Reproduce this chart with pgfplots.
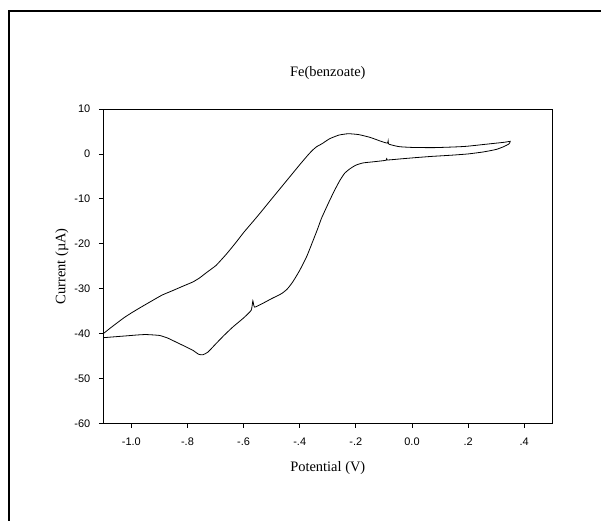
\documentclass[border=0pt]{standalone}
\usepackage{pgfplots}
\pgfplotsset{compat=1.18}
\usepackage{fontspec}
\setmainfont{Liberation Serif}
\newfontfamily\arialfont{Liberation Sans}

\pgfplotstableread{
x y
-1.100 -40.0
-1.080 -39.0
-1.055 -37.8
-1.025 -36.4
-0.995 -35.2
-0.960 -33.9
-0.924 -32.6
-0.890 -31.4
-0.852 -30.4
-0.815 -29.4
-0.781 -28.5
-0.757 -27.6
-0.730 -26.3
-0.698 -24.8
-0.660 -22.2
-0.626 -19.6
-0.600 -17.5
-0.570 -15.3
-0.543 -13.3
-0.500 -10.0
-0.450 -6.2
-0.400 -2.4
-0.370 -0.2
-0.355 0.8
-0.340 1.6
-0.320 2.3
-0.293 3.4
-0.260 4.2
-0.227 4.5
-0.190 4.3
-0.150 3.7
-0.110 2.8
-0.088 2.4
-0.085 2.9
-0.083 2.2
-0.060 1.8
-0.043 1.6
0.000 1.45
0.075 1.4
0.150 1.55
0.195 1.7
0.270 2.2
0.330 2.6
0.350 2.8
0.345 2.2
0.326 1.6
0.300 1.0
0.255 0.45
0.200 0.0
0.136 -0.3
0.070 -0.55
0.017 -0.8
-0.040 -1.1
-0.088 -1.35
-0.090 -0.9
-0.092 -1.4
-0.130 -1.7
-0.174 -2.0
-0.200 -2.5
-0.221 -3.3
-0.240 -4.3
-0.257 -5.9
-0.275 -8.0
-0.293 -10.3
-0.310 -12.6
-0.323 -14.4
-0.337 -16.8
-0.352 -19.2
-0.375 -22.8
-0.400 -25.9
-0.425 -28.5
-0.445 -30.1
-0.465 -31.1
-0.500 -32.2
-0.530 -33.2
-0.561 -34.1
-0.567 -32.7
-0.573 -34.8
-0.600 -36.5
-0.638 -38.5
-0.670 -40.4
-0.698 -42.2
-0.727 -44.1
-0.745 -44.7
-0.760 -44.6
-0.781 -43.7
-0.810 -42.8
-0.840 -41.9
-0.870 -41.0
-0.900 -40.4
-0.948 -40.2
-0.980 -40.3
-1.019 -40.5
-1.060 -40.7
-1.100 -40.9
}\cvdata

\begin{document}
\begin{tikzpicture}
\draw[line width=2bp] (8.5bp,0bp) -- (8.5bp,510bp) -- (601bp,510bp);
\begin{axis}[
  at={(103.3bp,97.5bp)}, anchor=south west,
  scale only axis, width=449bp, height=314.5bp,
  xmin=-1.1, xmax=0.5, ymin=-60, ymax=10,
  xtick={-1.0,-0.8,-0.6,-0.4,-0.2,0,0.2,0.4},
  xticklabels={-1.0,-.8,-.6,-.4,-.2,0.0,.2,.4},
  ytick={-60,-50,-40,-30,-20,-10,0,10},
  yticklabels={-60,-50,-40,-30,-20,-10,0,10},
  tick align=outside, tick pos=left, major tick length=4.5bp,
  axis line style={line width=0.8bp},
  every tick/.style={black, line width=0.8bp},
  ticklabel style={font=\arialfont\fontsize{11}{13}\selectfont},
  xticklabel style={anchor=base, yshift=-18bp},
  yticklabel style={anchor=east, xshift=-5bp, yshift=0bp},
  title={Fe(benzoate)},
  title style={at={(axis description cs:0.5,1.095)}, anchor=center, font=\fontsize{14.5}{17}\selectfont},
  xlabel={Potential (V)},
  xlabel style={at={(axis description cs:0.5,-0.1415)}, anchor=center, font=\fontsize{14.5}{17}\selectfont},
  ylabel={Current (µA)},
  ylabel style={at={(axis description cs:-0.092,0.5)}, anchor=center, font=\fontsize{14.5}{17}\selectfont},
]
\addplot[black, line width=0.8bp, smooth, tension=0.3] table[x=x, y=y] {\cvdata};
\end{axis}
\pgfresetboundingbox
\path (0bp,0bp) rectangle (601bp,521bp);
\end{tikzpicture}
\end{document}
